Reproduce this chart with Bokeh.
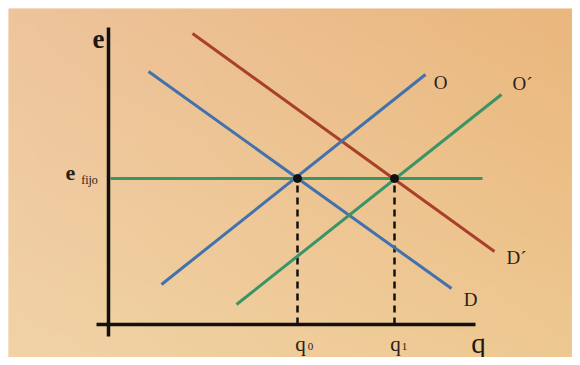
import numpy as np
from bokeh.plotting import figure
from bokeh.models import Range1d
from bokeh.core.properties import value
from bokeh.embed import file_html
from bokeh.resources import INLINE

# ---- data (schematic units, origin at axis crossing) ----
q0 = 189
q1 = 286
e_fijo = 146

demand_D_x = [40, 343]
demand_D_y = [253, 36]
demand_D2_x = [84, 386]
demand_D2_y = [291, 73]
supply_O_x = [53, 317]
supply_O_y = [40, 250]
supply_O2_x = [128, 393]
supply_O2_y = [20, 230]
fijo_x = [2, 374]
fijo_y = [e_fijo, e_fijo]

axis_x_extent = [-12, 367]
axis_y_extent = [-12, 297]

curve_labels = ["O", "O\u00b4", "D\u00b4", "D"]
curve_label_x = [332, 414, 408, 362]
curve_label_y = [242, 241, 67, 25]

FONT = value("Liberation Serif")

p = figure(width=572, height=357, output_backend="svg", toolbar_location=None,
           x_range=Range1d(-100, 464), y_range=Range1d(-33, 316),
           min_border=0, min_border_left=8, min_border_right=0,
           min_border_top=8, min_border_bottom=0)
p.axis.visible = False
p.grid.visible = False
p.outline_line_color = None
p.background_fill_color = "#efc9a0"
p.border_fill_color = "white"

# background paper gradient (styling only)
nx, ny = 120, 80
gx = np.linspace(0, 1, nx)[None, :]
gy = np.linspace(0, 1, ny)[:, None]  # 0 bottom, 1 top
tl = np.array([238, 196, 156.0]); tr = np.array([234, 183, 125.0])
bl = np.array([241, 211, 166.0]); br = np.array([238, 200, 145.0])
col = (bl[None, None, :] * (1 - gx[..., None]) * (1 - gy[..., None])
       + br[None, None, :] * gx[..., None] * (1 - gy[..., None])
       + tl[None, None, :] * (1 - gx[..., None]) * gy[..., None]
       + tr[None, None, :] * gx[..., None] * gy[..., None])
img = np.empty((ny, nx), dtype=np.uint32)
view = img.view(dtype=np.uint8).reshape((ny, nx, 4))
view[..., 0] = col[..., 0].astype(np.uint8)
view[..., 1] = col[..., 1].astype(np.uint8)
view[..., 2] = col[..., 2].astype(np.uint8)
view[..., 3] = 255
p.image_rgba(image=[img], x=-100, y=-33, dw=564, dh=349)

RED = "#a9402b"
BLUE = "#4271ad"
GREEN = "#3a9466"
INK = "#2a2118"

# axes
p.line([0, 0], axis_y_extent, line_color="#111111", line_width=3.5)
p.line(axis_x_extent, [0, 0], line_color="#111111", line_width=3.5)

# dashed guides
p.line([q0, q0], [0, e_fijo], line_color="#111111", line_width=2.5, line_dash="7 5")
p.line([q1, q1], [0, e_fijo], line_color="#111111", line_width=2.5, line_dash="7 5")

# curves
p.line(fijo_x, fijo_y, line_color=GREEN, line_width=3)
p.line(demand_D2_x, demand_D2_y, line_color=RED, line_width=3)
p.line(demand_D_x, demand_D_y, line_color=BLUE, line_width=3)
p.line(supply_O_x, supply_O_y, line_color=BLUE, line_width=3)
p.line(supply_O2_x, supply_O2_y, line_color=GREEN, line_width=3)

# equilibrium points
p.scatter([q0, q1], [e_fijo, e_fijo], size=8, color="#111111")

# curve labels
p.text(curve_label_x, curve_label_y, text=curve_labels, text_font=FONT,
       text_font_size="19px", text_color=INK, text_baseline="middle",
       text_align="center")

# axis labels
p.text([-10], [286], text=["e"], text_font=FONT, text_font_size="27px",
       text_font_style="bold", text_color="#1e1712", text_baseline="middle",
       text_align="center")
p.text([370], [-18], text=["q"], text_font=FONT, text_font_size="29px",
       text_color="#1e1712", text_baseline="middle", text_align="center")

# e_fijo label
p.text([-38], [152], text=["e"], text_font=FONT, text_font_size="22px",
       text_font_style="bold", text_color=INK, text_baseline="middle",
       text_align="center")
p.text([-19], [145], text=["fijo"], text_font=FONT, text_font_size="12px",
       text_color=INK, text_baseline="middle", text_align="center")

# q0 / q1 labels
p.text([q0 + 3, q1 + 1], [-19, -19], text=["q", "q"], text_font=FONT,
       text_font_size="21px", text_color=INK, text_baseline="middle",
       text_align="center")
p.text([q0 + 13, q1 + 10], [-22, -22], text=["0", "1"], text_font=FONT,
       text_font_size="11px", text_color=INK, text_baseline="middle",
       text_align="center")

open("out.html", "w").write(file_html(p, INLINE))
